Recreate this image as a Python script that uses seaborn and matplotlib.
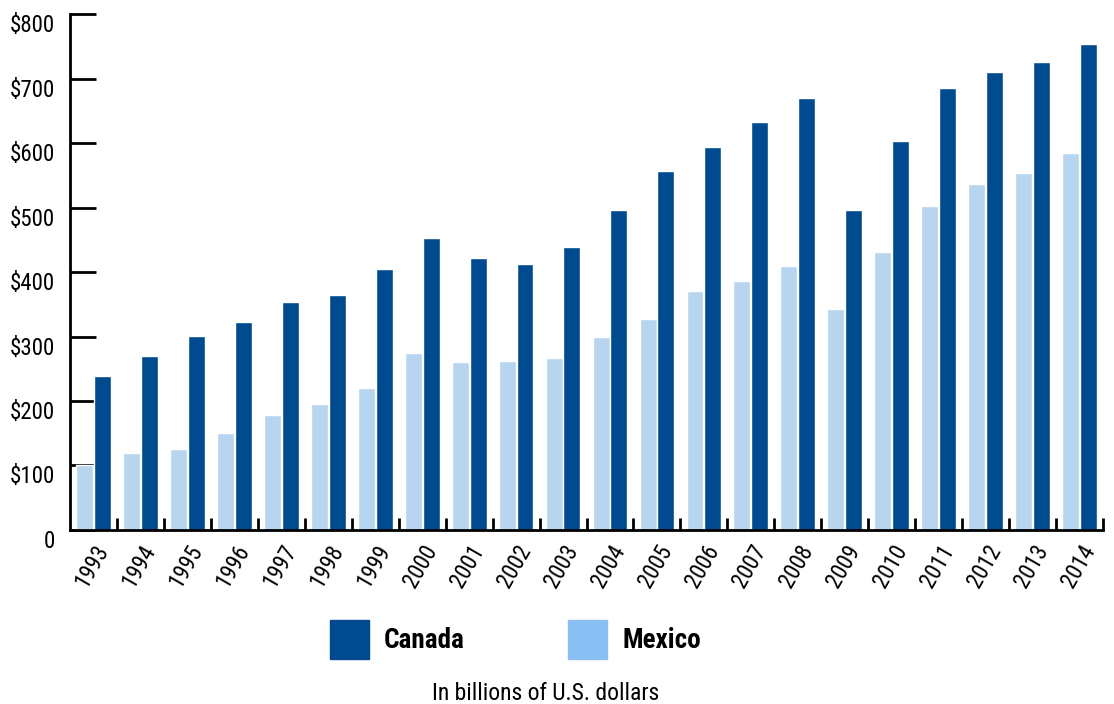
import pandas as pd
import matplotlib.pyplot as plt
import seaborn as sns
from matplotlib.patches import Rectangle
from matplotlib.ticker import FixedLocator

# Trade values, billions of U.S. dollars
years = [str(y) for y in range(1993, 2015)]
canada = [239, 270, 301, 322, 353, 364, 405, 453, 422, 412, 439,
          496, 557, 594, 633, 670, 496, 603, 685, 710, 726, 753]
mexico = [100, 120, 126, 151, 179, 195, 220, 274, 260, 262, 267,
          299, 327, 371, 386, 409, 343, 431, 502, 536, 553, 584]
y_ticks = [0, 100, 200, 300, 400, 500, 600, 700, 800]
y_labels = ['0'] + [f'${v}' for v in y_ticks[1:]]

CANADA_COLOR = '#004b8f'
MEXICO_COLOR = '#b8d5f0'
MEXICO_KEY = '#88bef2'

sns.set_style('white')
plt.rcParams['font.family'] = ['Roboto Condensed', 'Archivo Narrow', 'Asap Condensed', 'DejaVu Sans']
plt.rcParams['text.color'] = 'black'
plt.rcParams['xtick.color'] = 'black'
plt.rcParams['ytick.color'] = 'black'

df = pd.DataFrame({
    'year': years * 2,
    'value': mexico + canada,
    'country': ['Mexico'] * len(years) + ['Canada'] * len(years),
})

fig = plt.figure(figsize=(11.14, 7.04), dpi=100)
ax = fig.add_axes([0.0628, 0.2472, 0.9274, 0.7328])

sns.barplot(data=df, x='year', y='value', hue='country',
            hue_order=['Mexico', 'Canada'],
            palette={'Mexico': MEXICO_COLOR, 'Canada': CANADA_COLOR},
            width=0.76, gap=0.05, saturation=1, legend=False, ax=ax)

ax.set_xlim(-0.5, len(years) - 0.5)
ax.set_ylim(0, 800)
ax.set_xlabel('')
ax.set_ylabel('')

for side in ['top', 'right']:
    ax.spines[side].set_visible(False)
for side in ['left', 'bottom']:
    ax.spines[side].set_linewidth(2)
    ax.spines[side].set_color('black')

ax.set_yticks(y_ticks)
ax.set_yticklabels(y_labels, fontsize=16.5, va='top')
ax.tick_params(axis='y', left=True, direction='in', length=19, width=2, pad=11)

ax.set_xticks(range(len(years)))
ax.set_xticklabels(years, fontsize=16.5, rotation=60, ha='right', rotation_mode='anchor')
ax.tick_params(axis='x', which='major', bottom=True, length=0, pad=8)
ax.xaxis.set_minor_locator(FixedLocator([i + 0.5 for i in range(len(years))]))
ax.tick_params(axis='x', which='minor', bottom=True, direction='in', length=9, width=2)

# legend keys
fig.add_artist(Rectangle((330 / 1114, 1 - 659 / 704), 39 / 1114, 39 / 704,
                         transform=fig.transFigure, color=CANADA_COLOR))
fig.text(384 / 1114, 1 - 640 / 704, 'Canada', fontsize=19.5, fontweight='bold', va='center')
fig.add_artist(Rectangle((568 / 1114, 1 - 659 / 704), 39 / 1114, 39 / 704,
                         transform=fig.transFigure, color=MEXICO_KEY))
fig.text(622 / 1114, 1 - 640 / 704, 'Mexico', fontsize=19.5, fontweight='bold', va='center')

fig.text(546 / 1114, 1 - 693 / 704, 'In billions of U.S. dollars', fontsize=17,
         ha='center', va='center')

fig.savefig('out.png', dpi=100)
